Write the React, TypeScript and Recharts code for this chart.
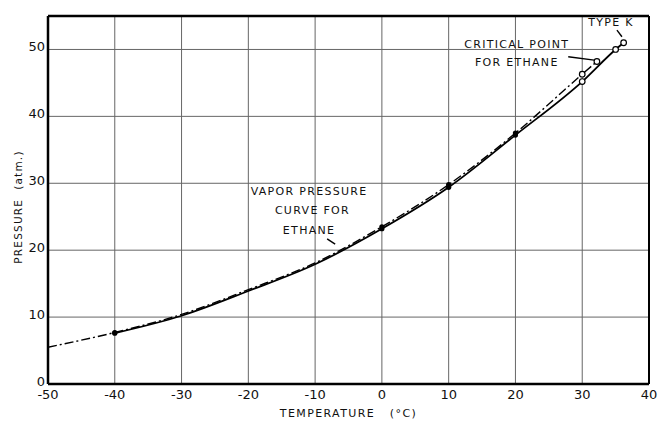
import {
  LineChart,
  Line,
  XAxis,
  YAxis,
  CartesianGrid,
  ReferenceLine,
  ReferenceDot,
  Label,
} from 'recharts';

// Vapor pressure curve for ethane (dash-dot), °C vs atm
const VAPOR_TEMPS = [-50, -40, -30, -20, -10, 0, 10, 20, 30, 32.2];
const VAPOR_PRESS = [5.5, 7.7, 10.4, 14.1, 18.1, 23.5, 29.8, 37.5, 46.3, 48.2];

// Type K measured curve (solid)
const TYPEK_TEMPS = [-40, -30, -20, -10, 0, 10, 20, 30, 35, 36.2];
const TYPEK_PRESS = [7.6, 10.2, 13.9, 17.9, 23.2, 29.4, 37.2, 45.2, 50.0, 51.0];

const X_TICKS = [-50, -40, -30, -20, -10, 0, 10, 20, 30, 40];
const Y_TICKS = [0, 10, 20, 30, 40, 50];

// which points get an open circle / a filled blob
const OPEN_MARKS = [30, 32.2, 35, 36.2];
const FILLED_MARKS = [-40, 0, 10, 20];

const vaporData = VAPOR_TEMPS.map((t, i) => ({ t, p: VAPOR_PRESS[i] }));
const typeKData = TYPEK_TEMPS.map((t, i) => ({ t, p: TYPEK_PRESS[i] }));

// annotation text, in data coordinates
const NOTES = [
  { t: 34.3, p: 54.0, text: 'TYPE K' },
  { t: 20.2, p: 50.8, text: 'CRITICAL POINT' },
  { t: 20.2, p: 48.1, text: 'FOR ETHANE' },
  { t: -10.9, p: 28.7, text: 'VAPOR PRESSURE' },
  { t: -10.4, p: 25.9, text: 'CURVE FOR' },
  { t: -10.9, p: 23.0, text: 'ETHANE' },
];

const LEADERS = [
  [{ x: 35.2, y: 52.9 }, { x: 35.95, y: 51.9 }],
  [{ x: 27.9, y: 48.9 }, { x: 31.8, y: 48.4 }],
  [{ x: -8.2, y: 21.7 }, { x: -7.0, y: 20.9 }],
];

const FONT = 'DejaVu Sans, sans-serif';
const TICK_STYLE = { fontFamily: FONT, fontSize: 13, fill: '#111' };

function renderDot(props: any) {
  const { cx, cy, payload, index } = props;
  const key = `d-${index}-${payload.t}`;
  if (OPEN_MARKS.includes(payload.t)) {
    return <circle key={key} cx={cx} cy={cy} r={2.8} fill="#fff" stroke="#000" strokeWidth={1.2} />;
  }
  if (FILLED_MARKS.includes(payload.t)) {
    return <circle key={key} cx={cx} cy={cy} r={2.6} fill="#000" />;
  }
  return <g key={key} />;
}

export default function App() {
  return (
    <div style={{ position: 'absolute', left: 0, top: 0, background: '#fff' }}>
      <LineChart width={658} height={421} margin={{ top: 16, right: 9, left: 0, bottom: 0 }}>
        <CartesianGrid stroke="#666" strokeWidth={1} horizontalValues={Y_TICKS} verticalValues={X_TICKS} />
        <XAxis
          type="number"
          dataKey="t"
          domain={[-50, 40]}
          ticks={X_TICKS}
          allowDataOverflow
          height={37}
          tickLine={false}
          tickSize={0}
          tickMargin={6}
          tick={TICK_STYLE}
          axisLine={{ stroke: '#000', strokeWidth: 2.5 }}
        >
          <Label
            content={(props: any) => {
              const vb = props.viewBox;
              return (
                <text
                  x={vb.x + vb.width / 2}
                  y={vb.y + 29}
                  textAnchor="middle"
                  dominantBaseline="central"
                  fontFamily={FONT}
                  fontSize={11}
                  letterSpacing={1.4}
                  fill="#111"
                  style={{ whiteSpace: 'pre' }}
                >
                  {'TEMPERATURE   (°C)'}
                </text>
              );
            }}
          />
        </XAxis>
        <YAxis
          type="number"
          domain={[0, 55]}
          ticks={Y_TICKS}
          allowDataOverflow
          width={48}
          tickLine={false}
          tickSize={0}
          tickMargin={3}
          tick={{ ...TICK_STYLE, dy: -3 }}
          axisLine={{ stroke: '#000', strokeWidth: 2.5 }}
        >
          <Label
            content={(props: any) => {
              const vb = props.viewBox;
              const x = 18;
              const y = vb.y + vb.height / 2 + 7;
              return (
                <text
                  x={x}
                  y={y}
                  transform={`rotate(-90, ${x}, ${y})`}
                  textAnchor="middle"
                  dominantBaseline="central"
                  fontFamily={FONT}
                  fontSize={10.5}
                  letterSpacing={1.2}
                  fill="#111"
                  style={{ whiteSpace: 'pre' }}
                >
                  {'PRESSURE  (atm.)'}
                </text>
              );
            }}
          />
        </YAxis>
        <ReferenceLine y={55} stroke="#000" strokeWidth={2.5} />
        <ReferenceLine x={40} stroke="#000" strokeWidth={2} />
        <Line
          data={vaporData}
          dataKey="p"
          type="monotone"
          stroke="#000"
          strokeWidth={1.4}
          strokeDasharray="9 3 2 3"
          dot={renderDot}
          activeDot={false}
          isAnimationActive={false}
        />
        <Line
          data={typeKData}
          dataKey="p"
          type="monotone"
          stroke="#000"
          strokeWidth={1.8}
          dot={renderDot}
          activeDot={false}
          isAnimationActive={false}
        />
        {LEADERS.map((seg, i) => (
          <ReferenceLine key={`l-${i}`} segment={seg} stroke="#000" strokeWidth={1.4} />
        ))}
        {NOTES.map((n) => (
          <ReferenceDot
            key={n.text}
            x={n.t}
            y={n.p}
            r={0}
            shape={(p: any) => (
              <text
                x={p.cx}
                y={p.cy}
                textAnchor="middle"
                dominantBaseline="central"
                fontFamily={FONT}
                fontSize={11}
                letterSpacing={1.3}
                fill="#111"
              >
                {n.text}
              </text>
            )}
          />
        ))}
      </LineChart>
    </div>
  );
}
